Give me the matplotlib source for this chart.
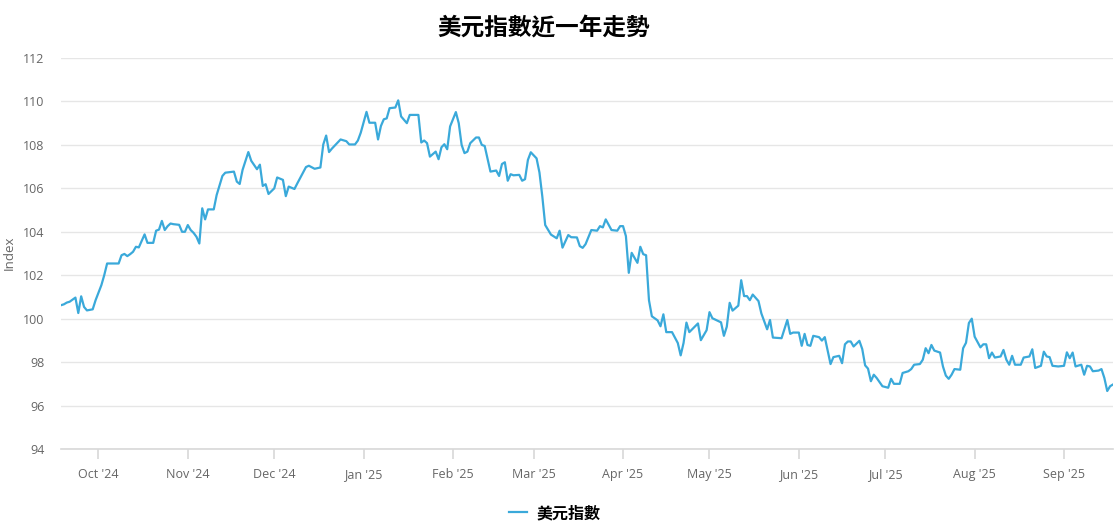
import numpy as np
import pandas as pd
import matplotlib
matplotlib.use('Agg')
import matplotlib.pyplot as plt
import matplotlib.dates as mdates


title = '美元指數近一年走勢'
seriesName = '美元指數'
yLabel = 'Index'
yTicks = [94, 96, 98, 100, 102, 104, 106, 108, 110, 112]

# values
dates = [
    '2024-09-18', '2024-09-19', '2024-09-20', '2024-09-21', '2024-09-23', '2024-09-24', '2024-09-25',
    '2024-09-26', '2024-09-27', '2024-09-29', '2024-09-30',
    '2024-10-02', '2024-10-03', '2024-10-04', '2024-10-08', '2024-10-09', '2024-10-10', '2024-10-11',
    '2024-10-12', '2024-10-13', '2024-10-14', '2024-10-15', '2024-10-17', '2024-10-18', '2024-10-20',
    '2024-10-21', '2024-10-22', '2024-10-23', '2024-10-24', '2024-10-25', '2024-10-26', '2024-10-27',
    '2024-10-29', '2024-10-30', '2024-10-31',
    '2024-11-01', '2024-11-02', '2024-11-03', '2024-11-04', '2024-11-05', '2024-11-06', '2024-11-07',
    '2024-11-08', '2024-11-10', '2024-11-11', '2024-11-13', '2024-11-14', '2024-11-17', '2024-11-18',
    '2024-11-19', '2024-11-20', '2024-11-22', '2024-11-23', '2024-11-25', '2024-11-26', '2024-11-27',
    '2024-11-28', '2024-11-29',
    '2024-12-01', '2024-12-02', '2024-12-04', '2024-12-05', '2024-12-06', '2024-12-08', '2024-12-09',
    '2024-12-12', '2024-12-13', '2024-12-15', '2024-12-17', '2024-12-18', '2024-12-19', '2024-12-20',
    '2024-12-21', '2024-12-24', '2024-12-26', '2024-12-27', '2024-12-29', '2024-12-30', '2024-12-31',
    '2025-01-02', '2025-01-03', '2025-01-05', '2025-01-06', '2025-01-07', '2025-01-08', '2025-01-09',
    '2025-01-10', '2025-01-12', '2025-01-13', '2025-01-14', '2025-01-16', '2025-01-17', '2025-01-20',
    '2025-01-21', '2025-01-22', '2025-01-23', '2025-01-24', '2025-01-26', '2025-01-27', '2025-01-28',
    '2025-01-29', '2025-01-30', '2025-01-31',
    '2025-02-02', '2025-02-03', '2025-02-04', '2025-02-05', '2025-02-06', '2025-02-07', '2025-02-09',
    '2025-02-10', '2025-02-11', '2025-02-12', '2025-02-14', '2025-02-16', '2025-02-17', '2025-02-18',
    '2025-02-19', '2025-02-20', '2025-02-21', '2025-02-22', '2025-02-24', '2025-02-25', '2025-02-26',
    '2025-02-27', '2025-02-28',
    '2025-03-02', '2025-03-03', '2025-03-04', '2025-03-05', '2025-03-07', '2025-03-09', '2025-03-10',
    '2025-03-11', '2025-03-13', '2025-03-14', '2025-03-16', '2025-03-17', '2025-03-18', '2025-03-19',
    '2025-03-21', '2025-03-23', '2025-03-24', '2025-03-25', '2025-03-26', '2025-03-28', '2025-03-30',
    '2025-03-31',
    '2025-04-01', '2025-04-02', '2025-04-03', '2025-04-04', '2025-04-06', '2025-04-07', '2025-04-08',
    '2025-04-09', '2025-04-10', '2025-04-11', '2025-04-13', '2025-04-14', '2025-04-15', '2025-04-16',
    '2025-04-18', '2025-04-20', '2025-04-21', '2025-04-22', '2025-04-23', '2025-04-24', '2025-04-27',
    '2025-04-28', '2025-04-30',
    '2025-05-01', '2025-05-02', '2025-05-05', '2025-05-06', '2025-05-07', '2025-05-08', '2025-05-09',
    '2025-05-11', '2025-05-12', '2025-05-13', '2025-05-14', '2025-05-15', '2025-05-16', '2025-05-18',
    '2025-05-19', '2025-05-21', '2025-05-22', '2025-05-23', '2025-05-26', '2025-05-28', '2025-05-29',
    '2025-05-30',
    '2025-06-01', '2025-06-02', '2025-06-03', '2025-06-04', '2025-06-05', '2025-06-06', '2025-06-08',
    '2025-06-09', '2025-06-10', '2025-06-12', '2025-06-13', '2025-06-15', '2025-06-16', '2025-06-17',
    '2025-06-18', '2025-06-19', '2025-06-20', '2025-06-22', '2025-06-23', '2025-06-24', '2025-06-25',
    '2025-06-26', '2025-06-27', '2025-06-28', '2025-06-30',
    '2025-07-02', '2025-07-03', '2025-07-04', '2025-07-06', '2025-07-07', '2025-07-09', '2025-07-10',
    '2025-07-11', '2025-07-13', '2025-07-14', '2025-07-15', '2025-07-16', '2025-07-17', '2025-07-18',
    '2025-07-20', '2025-07-21', '2025-07-22', '2025-07-23', '2025-07-24', '2025-07-25', '2025-07-27',
    '2025-07-28', '2025-07-29', '2025-07-30', '2025-07-31',
    '2025-08-01', '2025-08-03', '2025-08-04', '2025-08-05', '2025-08-06', '2025-08-07', '2025-08-08',
    '2025-08-10', '2025-08-11', '2025-08-12', '2025-08-13', '2025-08-14', '2025-08-15', '2025-08-17',
    '2025-08-18', '2025-08-20', '2025-08-21', '2025-08-22', '2025-08-24', '2025-08-25', '2025-08-26',
    '2025-08-27', '2025-08-28', '2025-08-30',
    '2025-09-01', '2025-09-02', '2025-09-03', '2025-09-04', '2025-09-05', '2025-09-07', '2025-09-08',
    '2025-09-09', '2025-09-10', '2025-09-11', '2025-09-13', '2025-09-14', '2025-09-15', '2025-09-16',
    '2025-09-17', '2025-09-18',
]

dxy = [
    100.62, 100.66, 100.74, 100.78, 100.97, 100.26, 101.03,
    100.54, 100.38, 100.43, 100.85,
    101.54, 102.00, 102.54, 102.54, 102.92, 102.98, 102.88,
    102.97, 103.08, 103.31, 103.28, 103.88, 103.49, 103.49,
    104.05, 104.10, 104.50, 104.08, 104.26, 104.38, 104.35,
    104.32, 104.00, 104.00,
    104.31, 104.08, 103.95, 103.77, 103.46, 105.08, 104.57,
    105.03, 105.03, 105.69, 106.57, 106.72, 106.77, 106.31,
    106.20, 106.85, 107.67, 107.27, 106.88, 107.09, 106.11,
    106.19, 105.74,
    106.00, 106.50, 106.39, 105.64, 106.08, 105.97, 106.23,
    106.98, 107.04, 106.90, 106.96, 108.02, 108.43, 107.67,
    107.83, 108.25, 108.17, 108.02, 108.02, 108.20, 108.56,
    109.52, 109.02, 109.02, 108.25, 108.87, 109.18, 109.22,
    109.69, 109.72, 110.05, 109.31, 109.00, 109.38, 109.38,
    108.11, 108.20, 108.08, 107.46, 107.69, 107.34, 107.89,
    108.03, 107.80, 108.85,
    109.51, 109.00, 108.00, 107.62, 107.69, 108.08, 108.34,
    108.34, 108.00, 107.95, 106.77, 106.82, 106.57, 107.12,
    107.20, 106.35, 106.65, 106.60, 106.62, 106.35, 106.42,
    107.31, 107.66,
    107.38, 106.73, 105.62, 104.31, 103.87, 103.70, 104.05,
    103.27, 103.85, 103.75, 103.74, 103.34, 103.26, 103.43,
    104.08, 104.05, 104.26, 104.20, 104.57, 104.08, 104.05,
    104.26,
    104.26, 103.80, 102.11, 103.03, 102.57, 103.31, 102.97,
    102.92, 100.85, 100.11, 99.92, 99.65, 100.20, 99.38,
    99.38, 98.88, 98.31, 98.88, 99.82, 99.38, 99.78,
    99.01, 99.47,
    100.30, 100.02, 99.83, 99.21, 99.63, 100.73, 100.37,
    100.60, 101.77, 101.04, 101.04, 100.85, 101.11, 100.81,
    100.24, 99.51, 99.94, 99.13, 99.10, 99.94, 99.30,
    99.36,
    99.36, 98.75, 99.30, 98.79, 98.75, 99.21, 99.15,
    98.99, 99.15, 97.91, 98.23, 98.29, 97.95, 98.82,
    98.95, 98.95, 98.72, 98.98, 98.60, 97.85, 97.70,
    97.12, 97.42, 97.27, 96.89,
    96.82, 97.23, 97.00, 97.00, 97.50, 97.58, 97.68,
    97.88, 97.91, 98.11, 98.64, 98.41, 98.79, 98.53,
    98.44, 97.80, 97.38, 97.23, 97.42, 97.68, 97.65,
    98.64, 98.89, 99.80, 100.00,
    99.17, 98.68, 98.82, 98.82, 98.18, 98.44, 98.21,
    98.26, 98.56, 98.11, 97.88, 98.29, 97.88, 97.88,
    98.21, 98.26, 98.59, 97.73, 97.83, 98.48, 98.26,
    98.23, 97.83, 97.80,
    97.83, 98.45, 98.18, 98.44, 97.80, 97.88, 97.42,
    97.83, 97.80, 97.58, 97.61, 97.68, 97.27, 96.67,
    96.89, 96.97,
]


def px(v, total):
    return v / total


def main():
    plt.rcParams['font.family'] = ['Noto Sans CJK TC', 'DejaVu Sans']
    latin = ['Open Sans', 'DejaVu Sans']
    W, H = 1115, 524
    fig = plt.figure(figsize=(W / 100, H / 100), dpi=100)
    fig.patch.set_facecolor('white')

    ax = fig.add_axes([px(61, W), px(H - 449, H), px(1052, W), px(391, H)])
    x = pd.to_datetime(dates)
    ax.plot(x, dxy, color='#3aa9da', lw=1.6, label=seriesName, solid_joinstyle='round')

    ax.set_xlim(x[0], x[-1])
    ax.set_ylim(yTicks[0], yTicks[-1])
    ax.set_yticks(yTicks)
    ax.yaxis.grid(True, color='#e6e6e6', lw=1)
    ax.set_axisbelow(True)
    for s in ['top', 'right', 'left']:
        ax.spines[s].set_visible(False)
    ax.spines['bottom'].set_color('#d8d8d8')
    ax.spines['bottom'].set_linewidth(1.2)

    ax.xaxis.set_major_locator(mdates.MonthLocator())
    ax.xaxis.set_major_formatter(mdates.DateFormatter("%b '%y"))
    ax.tick_params(axis='x', length=7.5, width=1.2, color='#d8d8d8', labelsize=9,
                   labelcolor='#666666', pad=6)
    ax.tick_params(axis='y', length=0, labelsize=9, labelcolor='#666666', pad=12)
    for lab in ax.get_xticklabels() + ax.get_yticklabels():
        lab.set_family(latin)

    fig.text(px(9, W), 1 - px(253, H), yLabel, rotation=90, ha='center', va='center',
             fontsize=9.5, color='#666666', family=latin)

    fig.text(px(544, W), 1 - px(28, H), title, ha='center', va='center',
             fontsize=17, fontweight='bold', color='#000000')

    fig.legend(loc='center', bbox_to_anchor=(px(555, W), 1 - px(513, H)), frameon=False,
               handlelength=1.1, handletextpad=0.6,
               prop={'size': 11.5, 'weight': 'bold', 'family': ['Noto Sans CJK TC', 'DejaVu Sans']})

    fig.savefig('out.png', dpi=100, facecolor='white')


if __name__ == '__main__':
    main()
